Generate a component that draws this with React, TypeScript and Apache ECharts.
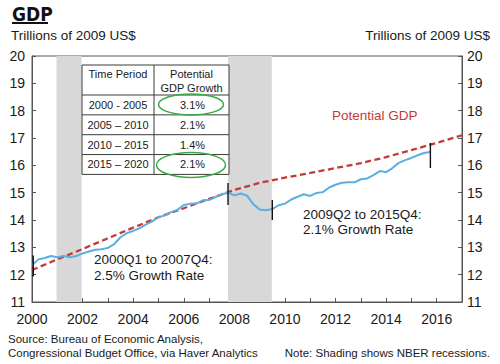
import React, { useEffect, useRef } from 'react';
import * as echarts from 'echarts';

// Real GDP, trillions of 2009 US$, quarterly from 2000Q1 to 2015Q4
const gdpStartYear = 2000;
const gdpActual = [
  12.34, 12.56, 12.61, 12.68,
  12.64, 12.68, 12.64, 12.68,
  12.78, 12.85, 12.91, 12.93,
  12.98, 13.12, 13.37, 13.52,
  13.6, 13.7, 13.83, 13.95,
  14.1, 14.17, 14.29, 14.37,
  14.55, 14.59, 14.6, 14.72,
  14.73, 14.84, 14.94, 15.0,
  14.9, 14.97, 14.89, 14.58,
  14.38, 14.36, 14.4, 14.54,
  14.6, 14.75, 14.85, 14.94,
  14.88, 14.99, 15.02, 15.19,
  15.29, 15.36, 15.38, 15.38,
  15.49, 15.52, 15.64, 15.79,
  15.75, 15.9, 16.09, 16.19,
  16.27, 16.37, 16.45, 16.49,
];

// Potential GDP (CBO), yearly
const potentialYears = [2000, 2001, 2002, 2003, 2004, 2005, 2006, 2007, 2008, 2009, 2010, 2011, 2012, 2013, 2014, 2015, 2016, 2017];
const potentialGdp = [12.17, 12.56, 12.94, 13.33, 13.72, 14.1, 14.43, 14.77, 15.1, 15.36, 15.55, 15.72, 15.9, 16.08, 16.3, 16.56, 16.82, 17.1];

// NBER recessions (fractional years)
const recessions = [
  [2000.97, 2001.96],
  [2007.75, 2009.48],
];

// Vertical period markers [x, yLow, yHigh]
const periodMarkers = [
  [2000.05, 11.93, 12.7],
  [2007.75, 14.55, 15.35],
  [2009.5, 14.0, 14.73],
  [2015.75, 15.9, 16.82],
];

const tableHeader = ['Time Period', 'Potential', 'GDP Growth'];
const tablePeriods = ['2000 - 2005', '2005 – 2010', '2010 – 2015', '2015 – 2020'];
const tableGrowth = ['3.1%', '2.1%', '1.4%', '2.1%'];
const highlightedRows = [0, 3];

const FONT = '"Liberation Sans", Arial, Helvetica, sans-serif';

export default function App() {
  const ref = useRef<HTMLDivElement>(null);

  useEffect(() => {
    if (!ref.current) return;
    const chart = echarts.init(ref.current, null, { renderer: 'svg' });

    const actualData = gdpActual.map((v, i) => [gdpStartYear + i * 0.25, v]);
    const potentialData = potentialYears.map((y, i) => [y, potentialGdp[i]]);

    const markerSeries = periodMarkers.map((m) => ({
      type: 'line',
      data: [[m[0], m[1]], [m[0], m[2]]],
      showSymbol: false,
      symbol: 'none',
      lineStyle: { color: '#111', width: 1.4 },
      z: 5,
      silent: true,
    }));

    // Table graphic
    const tL = 82, tR = 229, tMid = 154, tTop = 65, tHead = 95, rowH = 19.85;
    const tBottom = tHead + rowH * tablePeriods.length;
    const tableEls: any[] = [];
    tableEls.push({
      type: 'rect',
      shape: { x: tL, y: tTop, width: tR - tL, height: tBottom - tTop },
      style: { fill: '#fff', stroke: '#3a3a3a', lineWidth: 1 },
      z: 10,
    });
    tableEls.push({
      type: 'line',
      shape: { x1: tMid, y1: tTop, x2: tMid, y2: tBottom },
      style: { stroke: '#3a3a3a', lineWidth: 1 },
      z: 11,
    });
    for (let i = 0; i < tablePeriods.length; i++) {
      const y = tHead + rowH * i;
      tableEls.push({
        type: 'line',
        shape: { x1: tL, y1: y, x2: tR, y2: y },
        style: { stroke: '#3a3a3a', lineWidth: 1 },
        z: 11,
      });
    }
    const txt = (text: string, x: number, y: number, size: number, align: string, color = '#1a1a1a', z = 12) => ({
      type: 'text',
      x,
      y,
      z,
      style: {
        text,
        fill: color,
        font: `${size}px ${FONT}`,
        textAlign: align,
        textVerticalAlign: 'middle',
      },
    });
    tableEls.push(txt(tableHeader[0], (tL + tMid) / 2, 73.5, 11, 'center'));
    tableEls.push(txt(tableHeader[1], (tMid + tR) / 2, 73.5, 11, 'center'));
    tableEls.push(txt(tableHeader[2], (tMid + tR) / 2, 87.5, 11, 'center'));
    tablePeriods.forEach((p, i) => {
      const cy = tHead + rowH * i + rowH / 2;
      tableEls.push(txt(p, (tL + tMid) / 2, cy, 11, 'center'));
      tableEls.push(txt(tableGrowth[i], (tMid + tR) / 2 + 1, cy, 11, 'center'));
    });
    highlightedRows.forEach((r, k) => {
      const cy = tHead + rowH * r + rowH / 2;
      tableEls.push({
        type: 'ellipse',
        shape: { cx: 191, cy: cy + (k === 0 ? -0.5 : 0.5), rx: k === 0 ? 32.5 : 34.5, ry: k === 0 ? 10.5 : 12.5 },
        style: { fill: 'none', stroke: '#3aaa46', lineWidth: 1.5 },
        z: 13,
      });
    });

    const option: any = {
      animation: false,
      backgroundColor: '#fff',
      grid: {
        left: 32,
        right: 38,
        top: 56,
        bottom: 62,
        show: true,
        borderColor: '#555',
        borderWidth: 1,
        backgroundColor: 'transparent',
      },
      xAxis: {
        type: 'value',
        min: 2000,
        max: 2017,
        interval: 1,
        axisLine: { show: true, lineStyle: { color: '#555', width: 1 } },
        axisTick: { show: true, inside: true, length: 4, lineStyle: { color: '#555' } },
        splitLine: { show: false },
        axisLabel: {
          margin: 10,
          color: '#1a1a1a',
          fontSize: 14,
          fontFamily: FONT,
          showMaxLabel: true,
          showMinLabel: true,
          formatter: (v: number) => (Math.round(v) % 2 === 0 && v < 2017 ? String(Math.round(v)) : ''),
        },
      },
      yAxis: [
        {
          type: 'value',
          min: 11,
          max: 20,
          interval: 1,
          position: 'left',
          axisLine: { show: true, lineStyle: { color: '#555', width: 1 } },
          axisTick: { show: true, inside: true, length: 4, lineStyle: { color: '#555' } },
          splitLine: { show: false },
          axisLabel: { margin: 7, color: '#1a1a1a', fontSize: 14, fontFamily: FONT },
        },
        {
          type: 'value',
          min: 11,
          max: 20,
          interval: 1,
          position: 'right',
          axisLine: { show: true, lineStyle: { color: '#555', width: 1 } },
          axisTick: { show: true, inside: true, length: 4, lineStyle: { color: '#555' } },
          splitLine: { show: false },
          axisLabel: { margin: 5, color: '#1a1a1a', fontSize: 14, fontFamily: FONT },
        },
      ],
      series: [
        {
          type: 'line',
          name: 'Recessions',
          data: [],
          markArea: {
            silent: true,
            itemStyle: { color: '#d8d8d8' },
            data: recessions.map((r) => [{ xAxis: r[0] }, { xAxis: r[1] }]),
          },
          z: 1,
        },
        {
          type: 'line',
          name: 'Potential GDP',
          data: potentialData,
          showSymbol: false,
          symbol: 'none',
          lineStyle: { color: '#c43a35', width: 2.3, type: [6, 3.5] },
          z: 3,
        },
        {
          type: 'line',
          name: 'Real GDP',
          data: actualData,
          showSymbol: false,
          symbol: 'none',
          lineStyle: { color: '#5aaee3', width: 2 },
          z: 4,
        },
        ...markerSeries,
      ],
      graphic: [
        {
          type: 'text',
          x: 12,
          y: 4,
          style: {
            text: 'GDP',
            fill: '#111',
            font: `bold 19px "Liberation Sans Narrow", "DejaVu Sans Condensed", ${FONT}`,
          },
        },
        {
          type: 'line',
          shape: { x1: 12, y1: 23, x2: 48, y2: 23 },
          style: { stroke: '#111', lineWidth: 2 },
        },
        txt('Trillions of 2009 US$', 11, 35.5, 13.5, 'left'),
        txt('Trillions of 2009 US$', 490, 35.5, 13.5, 'right'),
        txt('Potential GDP', 332, 115, 13.5, 'left', '#c43a35'),
        txt('2009Q2 to 2015Q4:', 303, 214, 13.5, 'left'),
        txt('2.1% Growth Rate', 303, 229, 13.5, 'left'),
        txt('2000Q1 to 2007Q4:', 94, 259, 13.5, 'left'),
        txt('2.5% Growth Rate', 94, 275, 13.5, 'left'),
        txt('Source: Bureau of Economic Analysis,', 8, 339, 11.5, 'left'),
        txt('Congressional Budget Office, via Haver Analytics', 8, 353, 11.5, 'left'),
        txt('Note: Shading shows NBER recessions.', 490, 353, 11.5, 'right'),
        ...tableEls,
      ],
    };

    chart.setOption(option);
    return () => chart.dispose();
  }, []);

  return (
    <div
      ref={ref}
      style={{ position: 'fixed', left: 0, top: 0, width: 500, height: 364, background: '#fff' }}
    />
  );
}
